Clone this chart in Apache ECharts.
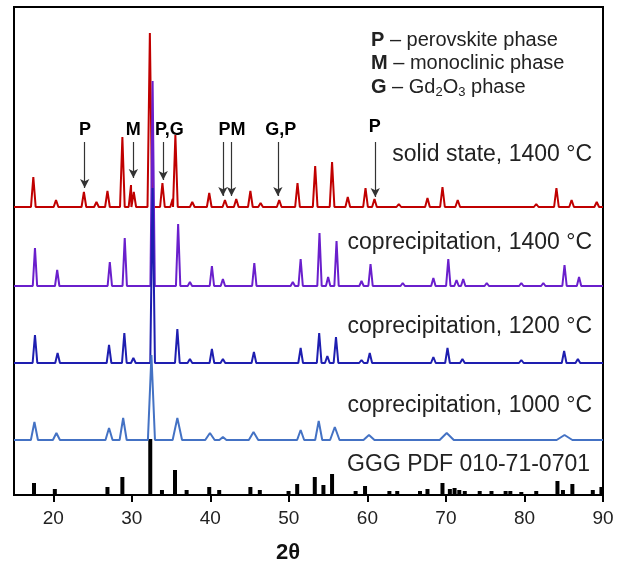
<!DOCTYPE html>
<html>
<head>
<meta charset="utf-8">
<script src="https://cdn.jsdelivr.net/npm/echarts@6/dist/echarts.min.js"></script>
<style>
  html, body { margin: 0; padding: 0; background: #fff; }
  #main { width: 624px; height: 567px; }
</style>
</head>
<body>
<div id="main"></div>
<script>
// 衍射峰 [2θ, 强度, 半宽(可选)]
const solidStatePeaks = [
  [17.46, 30], [20.35, 7], [23.9, 15], [25.5, 5], [26.9, 16], [28.8, 70],
  [29.9, 22], [30.25, 15], [32.3, 174], [33.9, 24], [35.2, 8], [35.55, 72],
  [37.7, 5], [39.86, 14], [41.86, 7], [43.3, 8], [45.1, 16], [46.4, 4],
  [48.77, 7], [51.1, 24], [53.35, 41], [55.5, 45], [57.5, 10], [59.76, 19],
  [60.9, 8], [64.0, 3], [67.65, 9], [69.56, 20], [71.5, 7], [81.5, 3],
  [84.07, 19], [86.0, 7], [89.2, 5]
];
const co1400Peaks = [
  [17.67, 38], [20.5, 16], [27.2, 24], [29.1, 48], [32.65, 205], [35.9, 62],
  [37.4, 4], [40.2, 20], [41.6, 7], [45.6, 23], [50.5, 4], [51.5, 27],
  [53.9, 53], [55.0, 9], [56.07, 45], [59.25, 5], [60.4, 22], [64.5, 3],
  [68.4, 8], [70.3, 27], [71.35, 6], [72.2, 7], [75.2, 3], [79.6, 3],
  [82.4, 3], [85.1, 21], [86.95, 9]
];
const co1200Peaks = [
  [17.67, 28], [20.55, 10], [27.1, 18], [29.05, 30], [30.2, 5], [32.65, 175],
  [35.8, 34], [37.4, 4], [40.2, 14], [41.6, 4], [45.55, 11], [51.5, 15],
  [53.86, 30], [54.9, 7], [56.0, 26], [59.25, 3], [60.3, 10], [68.4, 6],
  [70.2, 15], [72.1, 4], [79.6, 3], [85.05, 12], [86.8, 4]
];
const co1000Peaks = [
  [17.6, 18], [20.4, 7], [27.1, 12], [28.9, 22], [32.5, 85], [35.8, 22, 0.6],
  [39.95, 7, 0.6], [41.6, 3], [45.5, 8, 0.6], [51.5, 10], [53.8, 19],
  [55.85, 13, 0.6], [60.2, 5, 0.7], [70.1, 7, 0.9], [85.1, 5, 1.0]
];
// GGG PDF 010-71-0701 标准线
const gggSticks = [
  [17.55, 12], [20.2, 6], [26.9, 8], [28.8, 18], [32.35, 56], [33.84, 5],
  [35.5, 25], [36.98, 5], [39.86, 8], [41.13, 5], [45.1, 8], [46.3, 5],
  [49.96, 4], [51.06, 11], [53.3, 18], [54.4, 10], [55.5, 21], [58.5, 4],
  [59.7, 9], [62.8, 4], [63.8, 4], [66.7, 4], [67.65, 6], [69.56, 12],
  [70.5, 6], [71.1, 7], [71.7, 5], [72.4, 4], [74.3, 4], [75.8, 4],
  [77.6, 4], [78.2, 4], [79.6, 3], [81.5, 4], [84.2, 14], [84.9, 5],
  [86.1, 11], [88.7, 5], [89.8, 8]
];
const xTicks = [20, 30, 40, 50, 60, 70, 80, 90];
const traceNames = [
  "solid state, 1400 °C",
  "coprecipitation, 1400 °C",
  "coprecipitation, 1200 °C",
  "coprecipitation, 1000 °C",
  "GGG PDF 010-71-0701"
];
// 相标记: 文字, 文字位置 2θ, 箭头 2θ 列表, 箭头终点
const phaseLabels = ["P", "M", "P,G", "PM", "G,P", "P"];
const phaseLabelX = [24.03, 30.18, 34.79, 42.75, 48.98, 60.95];
const phaseArrowX = [[24.0], [30.2], [34.0], [41.6, 42.7], [48.6], [61.0]];
const phaseArrowTip = [307, 317, 315, 299, 299, 298];

const FONT = '"Liberation Sans", Arial, sans-serif';
const offsets = [288, 209, 132, 55];
const colors = ["#C00000", "#6A1FCC", "#1E1EB0", "#4472C4"];
const halfWidths = [0.3, 0.28, 0.3, 0.45];

const toProfile = (peaks, base, w) => {
  const pts = [[15, base], [90, base]];
  peaks.forEach(([x, h, pw]) => {
    const hw = pw || w;
    pts.push([x - hw, base], [x, base + h], [x + hw, base]);
  });
  pts.sort((a, b) => a[0] - b[0]);
  return pts;
};

const chart = echarts.init(document.getElementById("main"));

const allPeaks = [solidStatePeaks, co1400Peaks, co1200Peaks, co1000Peaks];
const lineSeries = allPeaks.map((peaks, i) => ({
  type: "line",
  name: traceNames[i],
  data: toProfile(peaks, offsets[i], halfWidths[i]),
  showSymbol: false,
  lineStyle: { color: colors[i], width: 2 },
  z: 5 + i
}));

// 箭头
const arrowData = [];
phaseArrowX.forEach((xs, i) => {
  xs.forEach((x) => {
    arrowData.push([{ coord: [x, 353] }, { coord: [x, phaseArrowTip[i]] }]);
  });
});
lineSeries[0].markLine = {
  silent: true,
  symbol: ["none", "arrow"],
  symbolSize: [7, 9],
  label: { show: false },
  lineStyle: { color: "#333", width: 1.2, type: "solid" },
  data: arrowData
};

const textItem = (text, x, y, size, align) => ({
  type: "text",
  x: x,
  y: y,
  style: {
    text: text,
    fontFamily: FONT,
    fontSize: size,
    fill: "#222",
    align: align,
    verticalAlign: "middle"
  }
});

const legendRich = {
  b: { fontWeight: "bold", fontFamily: FONT, fontSize: 20, fill: "#222", lineHeight: 24 },
  n: { fontFamily: FONT, fontSize: 20, fill: "#222", lineHeight: 24 },
  sub: { fontFamily: FONT, fontSize: 13, fill: "#222", verticalAlign: "bottom", lineHeight: 15 }
};
const legendLine = (text, y) => ({
  type: "text",
  x: 371,
  y: y,
  style: { text: text, rich: legendRich, fontFamily: FONT, fontSize: 20, fill: "#222", verticalAlign: "middle" }
});

const staticGraphics = [
  legendLine("{b|P}{n| – perovskite phase}", 40),
  legendLine("{b|M}{n| – monoclinic phase}", 63),
  legendLine("{b|G}{n| – Gd}{sub|2}{n|O}{sub|3}{n| phase}", 87),
  textItem(traceNames[0], 592, 155, 23, "right"),
  textItem(traceNames[1], 592, 243, 23, "right"),
  textItem(traceNames[2], 592, 327, 23, "right"),
  textItem(traceNames[3], 592, 406, 23, "right"),
  textItem(traceNames[4], 590, 465, 23, "right"),
  {
    type: "text",
    x: 288,
    y: 553,
    style: {
      text: "2θ",
      fontFamily: FONT,
      fontSize: 22,
      fontWeight: "bold",
      fill: "#111",
      align: "center",
      verticalAlign: "middle"
    }
  }
];

chart.setOption({
  animation: false,
  grid: {
    left: 14, right: 21, top: 7, bottom: 72,
    show: true, borderColor: "#000", borderWidth: 2
  },
  xAxis: {
    type: "value",
    min: 15,
    max: 90,
    axisLine: { lineStyle: { color: "#000", width: 2 } },
    axisTick: { show: true, customValues: xTicks, length: 7, lineStyle: { color: "#000", width: 2 } },
    axisLabel: { customValues: xTicks, fontSize: 19, color: "#222", margin: 14, fontFamily: FONT },
    splitLine: { show: false }
  },
  yAxis: {
    type: "value",
    min: 0,
    max: 488,
    axisLine: { show: true, lineStyle: { color: "#000", width: 2 } },
    axisTick: { show: false },
    axisLabel: { show: false },
    splitLine: { show: false }
  },
  series: [
    {
      type: "bar",
      name: traceNames[4],
      data: gggSticks,
      barWidth: 4,
      itemStyle: { color: "#000" },
      z: 2
    },
    ...lineSeries
  ],
  graphic: staticGraphics
});

// 相标记文字，按坐标轴换算位置
const phaseGraphics = phaseLabels.map((t, i) => {
  const [px, py] = chart.convertToPixel({ gridIndex: 0 }, [phaseLabelX[i], i === 5 ? 368 : 365]);
  return {
    type: "text",
    x: px,
    y: py,
    z: 100,
    style: {
      text: t,
      fontFamily: FONT,
      fontSize: 18,
      fontWeight: "bold",
      fill: "#000",
      align: "center",
      verticalAlign: "middle"
    }
  };
});
chart.setOption({ graphic: staticGraphics.concat(phaseGraphics) });
</script>
</body>
</html>
